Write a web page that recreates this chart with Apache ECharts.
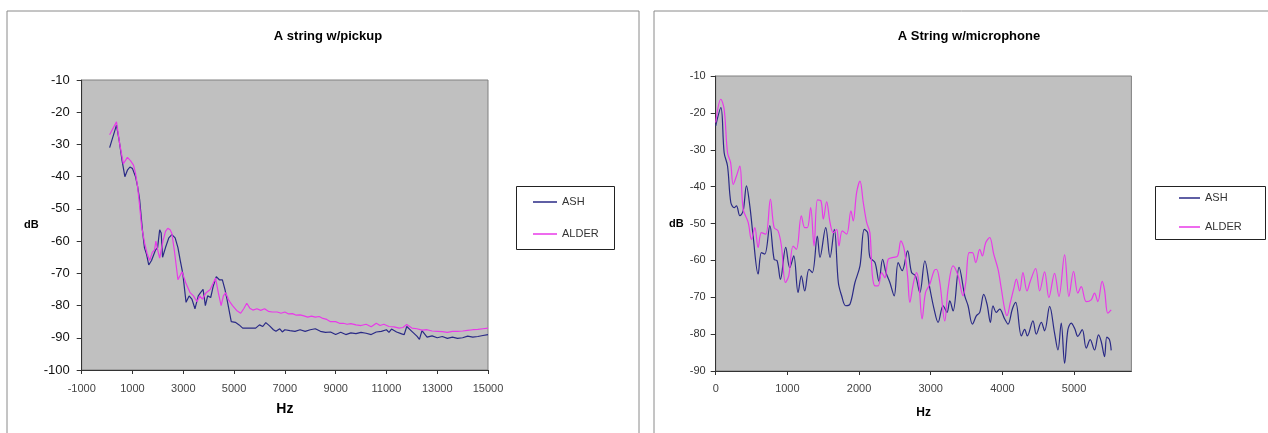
<!DOCTYPE html>
<html>
<head>
<meta charset="utf-8">
<script src="https://cdn.jsdelivr.net/npm/echarts@6/dist/echarts.min.js"></script>
<style>
html,body{margin:0;padding:0;background:#fff;}
#chart{width:1268px;height:433px;}
</style>
</head>
<body>
<div id="chart"></div>
<script>
// ---- Data (Hz, dB) ----
const seriesNames = ['ASH', 'ALDER'];
const titles = ['A string w/pickup', 'A String w/microphone'];

const pickupAsh = [[100,-31],[370,-24],[480,-29],[590,-35],[700,-40],[800,-38],[900,-37],[1000,-37.5],[1120,-40],[1200,-43],[1280,-47],[1390,-56.5],[1470,-62],[1550,-64],[1640,-67.4],[1750,-66],[1910,-62.7],[1990,-62],[2070,-56.5],[2130,-57.5],[2185,-65],[2300,-62],[2430,-59],[2550,-58],[2680,-59],[2790,-62],[2880,-66],[2980,-70],[3110,-79],[3230,-77],[3340,-78],[3460,-81],[3590,-77],[3680,-76],[3780,-75],[3870,-80],[3960,-77],[4080,-77.5],[4180,-74],[4300,-71],[4420,-72],[4540,-72],[4640,-75],[4720,-78],[4890,-85],[5050,-85.2],[5200,-86],[5340,-87],[5500,-87],[5700,-87],[5850,-87],[6000,-86],[6130,-86.5],[6250,-85.3],[6400,-86.3],[6550,-87.5],[6650,-88],[6800,-87.2],[6900,-88.2],[7000,-87.5],[7200,-87.8],[7400,-88],[7600,-87.5],[7800,-88],[8000,-87.5],[8200,-87.2],[8400,-88],[8600,-88.3],[8800,-88.2],[9000,-89],[9200,-88.3],[9400,-89],[9600,-88.5],[9800,-88.7],[10000,-88.3],[10200,-88.6],[10400,-89],[10600,-88.2],[10800,-88],[11000,-87.5],[11100,-88.3],[11200,-87.3],[11400,-88.2],[11600,-88.8],[11700,-89],[11800,-86.5],[12000,-88],[12200,-89.5],[12300,-90.5],[12400,-87.8],[12600,-89.8],[12800,-89.4],[13000,-90],[13200,-89.6],[13400,-90.2],[13600,-89.8],[13800,-90.2],[14000,-90],[14200,-89.5],[14400,-89.8],[14600,-89.6],[14800,-89.3],[15000,-89]];

const pickupAlder = [[100,-27],[370,-23],[500,-30],[640,-36],[800,-34],[920,-35],[1040,-36.4],[1120,-39],[1200,-43],[1280,-49],[1360,-55.5],[1480,-60.7],[1580,-64],[1680,-66],[1780,-63.5],[1870,-62.7],[1920,-60],[2000,-63],[2070,-65.3],[2200,-60],[2300,-57],[2390,-56],[2480,-56.5],[2550,-57.6],[2650,-63],[2790,-72],[2950,-69.5],[3100,-73],[3270,-76],[3400,-77],[3540,-78.8],[3650,-77],[3750,-78],[3900,-76],[4060,-75],[4270,-71.5],[4380,-76],[4490,-80],[4580,-77],[4670,-76],[4800,-78.5],[4940,-80],[5100,-81.5],[5260,-82.4],[5380,-81],[5500,-79.3],[5620,-80.8],[5740,-81.4],[5900,-81],[6050,-81.5],[6200,-81],[6350,-81.8],[6500,-82],[6700,-82],[6850,-82.4],[7000,-82],[7150,-82.6],[7300,-82.5],[7450,-83],[7600,-82.9],[7750,-83.2],[7900,-83.6],[8050,-83.3],[8200,-83.6],[8350,-83.4],[8500,-84],[8650,-84.3],[8800,-85],[9000,-85],[9150,-85.5],[9300,-85.5],[9450,-85.8],[9600,-85.6],[9800,-86],[10000,-86.2],[10200,-85.8],[10400,-86.6],[10600,-85.5],[10750,-86.2],[10900,-85.8],[11100,-86.5],[11300,-86.6],[11500,-87],[11650,-86.8],[11800,-85.9],[12000,-87],[12200,-87.2],[12400,-87.6],[12600,-87.5],[12800,-87.9],[13000,-88],[13200,-88.1],[13400,-88.3],[13600,-88],[13800,-88],[14000,-87.9],[14200,-87.7],[14400,-87.5],[14600,-87.4],[14800,-87.2],[15000,-87]];

const micAsh = [[0,-23.5],[72,-18.6],[118,-30.8],[165,-34.4],[211,-44.3],[258,-45.7],[290,-45.2],[337,-47.9],[383,-46.6],[429,-39.8],[476,-45.2],[522,-53.4],[592,-63.7],[638,-57.9],[685,-58.3],[755,-50.6],[815,-59.7],[857,-60.1],[903,-65.1],[977,-56.5],[1033,-62],[1089,-58.8],[1149,-68.7],[1195,-64.2],[1242,-68.3],[1302,-62.4],[1348,-63.3],[1418,-53.4],[1455,-59.2],[1535,-51.1],[1595,-59.2],[1655,-51.6],[1711,-66],[1757,-69.6],[1813,-72.3],[1873,-71.9],[1943,-66],[2013,-61.5],[2073,-51.6],[2120,-52.5],[2152,-59.2],[2222,-60.6],[2277,-65.6],[2329,-59.7],[2375,-63.3],[2430,-66],[2490,-69.6],[2546,-60.6],[2602,-62.8],[2677,-57.4],[2733,-63.3],[2788,-64.2],[2848,-68.7],[2918,-60.1],[2987,-67.5],[3047,-73.2],[3103,-76.8],[3173,-72.3],[3228,-74.1],[3266,-71],[3312,-73.7],[3396,-61.9],[3475,-69.6],[3521,-72.3],[3582,-77.3],[3638,-75],[3684,-74.1],[3740,-69.2],[3786,-71.9],[3833,-76.8],[3869,-72.3],[3916,-74.1],[3962,-73.2],[4032,-75.9],[4078,-77.3],[4139,-73.2],[4185,-71.4],[4265,-80.5],[4311,-78.7],[4348,-80.5],[4426,-76.4],[4473,-80],[4543,-76.8],[4589,-79.1],[4659,-72.5],[4728,-79.7],[4775,-84.3],[4821,-77],[4868,-87.9],[4914,-78.8],[4960,-77],[5007,-78.4],[5053,-80.6],[5114,-78.8],[5170,-83.8],[5225,-81.5],[5285,-84.3],[5341,-80.2],[5379,-82],[5425,-86.1],[5457,-80.8],[5494,-81.5],[5518,-84.4]];

const micAlder = [[0,-22.6],[72,-16.3],[118,-19],[165,-30.8],[208,-33.5],[244,-39.4],[290,-37.1],[337,-34.4],[383,-46.1],[453,-49.7],[499,-54.3],[546,-51.1],[592,-56.5],[638,-52.5],[699,-52.9],[763,-43.4],[815,-51.1],[870,-52],[917,-56.1],[973,-66],[1019,-64.2],[1080,-56.1],[1126,-57],[1195,-47.9],[1242,-51.1],[1279,-51.1],[1325,-45.7],[1372,-56.1],[1420,-43.6],[1469,-43.9],[1502,-48.8],[1548,-44.1],[1595,-49.7],[1641,-52.5],[1688,-51.6],[1720,-56.1],[1766,-52],[1827,-52.9],[1887,-46.6],[1919,-49.3],[1966,-41.6],[2013,-38.5],[2059,-44.3],[2106,-49.7],[2152,-52.5],[2184,-63.7],[2222,-66.9],[2268,-66.9],[2315,-63.3],[2361,-64.7],[2407,-59.7],[2476,-59.2],[2538,-58.8],[2584,-54.7],[2630,-57],[2677,-64.2],[2709,-71.4],[2755,-66.5],[2802,-63.3],[2834,-66],[2880,-75.9],[2928,-68.7],[2987,-66.5],[3047,-62.8],[3080,-62.4],[3127,-66],[3196,-76.4],[3242,-67.8],[3312,-61.5],[3382,-64.2],[3451,-69.6],[3489,-66],[3535,-57.9],[3582,-57.9],[3628,-60.6],[3684,-57],[3721,-58.8],[3767,-55.2],[3823,-53.8],[3879,-58.3],[3939,-62.4],[3986,-67.8],[4032,-73.2],[4064,-75],[4111,-71.4],[4157,-67.8],[4195,-65.1],[4241,-68.3],[4287,-63.3],[4343,-68.3],[4390,-65.6],[4464,-62.2],[4520,-68.3],[4589,-63.1],[4649,-70.1],[4728,-63.5],[4789,-69.8],[4868,-58.5],[4928,-69.8],[4993,-63],[5053,-68.9],[5100,-67.1],[5170,-71.2],[5239,-70.7],[5285,-68.9],[5332,-71.2],[5392,-65.7],[5425,-68],[5471,-74.3],[5518,-73.4]];

// Axis ranges
const pickupX = {min: -1000, max: 15000, interval: 2000};
const pickupY = {min: -100, max: -10, interval: 10};
const micX = {min: 0, max: 5800, interval: 1000};
const micY = {min: -90, max: -10, interval: 10};

const FONT = '"Liberation Sans", Arial, Helvetica, sans-serif';
const ASH_COLOR = '#2a2a86';
const ALDER_COLOR = '#e83ae8';
const plain = v => String(v);

const chart = echarts.init(document.getElementById('chart'), null, {renderer: 'canvas'});

function yAxisCfg(r, idx, fontSize, color, margin, nameGap, nameSize) {
  return {
    type: 'value', gridIndex: idx, min: r.min, max: r.max, interval: r.interval,
    name: 'dB', nameLocation: 'middle', nameRotate: 0, nameGap: nameGap,
    nameTextStyle: {fontFamily: FONT, fontSize: nameSize, fontWeight: 'bold', color: '#000'},
    axisLine: {show: true, onZero: false, lineStyle: {color: '#333', width: 1}},
    axisTick: {show: true, inside: false, length: 5, lineStyle: {color: '#333'}},
    axisLabel: {fontFamily: FONT, fontSize: fontSize, color: color, margin: margin, formatter: plain},
    splitLine: {show: false}
  };
}
function xAxisCfg(r, idx, fontSize, margin, nameGap, nameSize, hideMax) {
  return {
    type: 'value', gridIndex: idx, min: r.min, max: r.max, interval: r.interval,
    name: 'Hz', nameLocation: 'middle', nameGap: nameGap,
    nameTextStyle: {fontFamily: FONT, fontSize: nameSize, fontWeight: 'bold', color: '#000'},
    axisLine: {show: true, onZero: false, lineStyle: {color: '#333', width: 1}},
    axisTick: {show: true, inside: false, length: 4, lineStyle: {color: '#333'}},
    axisLabel: {fontFamily: FONT, fontSize: fontSize, color: '#444', margin: margin,
                formatter: plain, showMaxLabel: hideMax ? false : true},
    splitLine: {show: false}
  };
}

const option = {
  animation: false,
  backgroundColor: '#ffffff',
  title: [
    {text: titles[0], left: 323, top: 25, textAlign: 'center',
     textStyle: {fontFamily: FONT, fontSize: 13, fontWeight: 'bold', color: '#000'}},
    {text: titles[1], left: 964, top: 25, textAlign: 'center',
     textStyle: {fontFamily: FONT, fontSize: 13, fontWeight: 'bold', color: '#000'}}
  ],
  graphic: [
    {type: 'rect', z: 0, shape: {x: 7, y: 11, width: 632, height: 440},
     style: {fill: 'none', stroke: '#8a8a8a', lineWidth: 1}},
    {type: 'rect', z: 0, shape: {x: 654, y: 11, width: 640, height: 440},
     style: {fill: 'none', stroke: '#8a8a8a', lineWidth: 1}},
    {type: 'rect', z: 0, shape: {x: 516.5, y: 186.5, width: 98, height: 63},
     style: {fill: '#fff', stroke: '#222', lineWidth: 1}},
    {type: 'rect', z: 0, shape: {x: 1155.5, y: 186.5, width: 110, height: 53},
     style: {fill: '#fff', stroke: '#222', lineWidth: 1}}
  ],
  legend: [
    {data: seriesNames, orient: 'vertical', left: 533, top: 195, z: 10,
     icon: 'rect', itemWidth: 24, itemHeight: 1.5, itemGap: 18, padding: 0,
     textStyle: {fontFamily: FONT, fontSize: 11, color: '#333', lineHeight: 14}},
    {data: seriesNames, orient: 'vertical', left: 1179, top: 191, z: 10,
     icon: 'rect', itemWidth: 21, itemHeight: 1.5, itemGap: 15, padding: 0,
     textStyle: {fontFamily: FONT, fontSize: 11, color: '#333', lineHeight: 14}}
  ],
  grid: [
    {left: 81.7, top: 80, width: 406.3, height: 290, show: true,
     backgroundColor: '#c0c0c0', borderColor: '#808080', borderWidth: 1},
    {left: 715.7, top: 76, width: 415.7, height: 295, show: true,
     backgroundColor: '#c0c0c0', borderColor: '#808080', borderWidth: 1}
  ],
  xAxis: [
    xAxisCfg(pickupX, 0, 11, 13, 32, 14, false),
    xAxisCfg(micX, 1, 11, 12, 36, 12, true)
  ],
  yAxis: [
    yAxisCfg(pickupY, 0, 13, '#111', 12, 43, 11),
    yAxisCfg(micY, 1, 11, '#333', 10, 32, 11)
  ],
  series: [
    {name: seriesNames[0], type: 'line', xAxisIndex: 0, yAxisIndex: 0, data: pickupAsh,
     symbol: 'none', lineStyle: {color: ASH_COLOR, width: 1.2}, itemStyle: {color: ASH_COLOR}},
    {name: seriesNames[1], type: 'line', xAxisIndex: 0, yAxisIndex: 0, data: pickupAlder,
     symbol: 'none', lineStyle: {color: ALDER_COLOR, width: 1.2}, itemStyle: {color: ALDER_COLOR}},
    {name: seriesNames[0], type: 'line', xAxisIndex: 1, yAxisIndex: 1, data: micAsh,
     symbol: 'none', smooth: 0.35, lineStyle: {color: ASH_COLOR, width: 1.2}, itemStyle: {color: ASH_COLOR}},
    {name: seriesNames[1], type: 'line', xAxisIndex: 1, yAxisIndex: 1, data: micAlder,
     symbol: 'none', smooth: 0.35, lineStyle: {color: ALDER_COLOR, width: 1.2}, itemStyle: {color: ALDER_COLOR}}
  ]
};
chart.setOption(option);
</script>
</body>
</html>
